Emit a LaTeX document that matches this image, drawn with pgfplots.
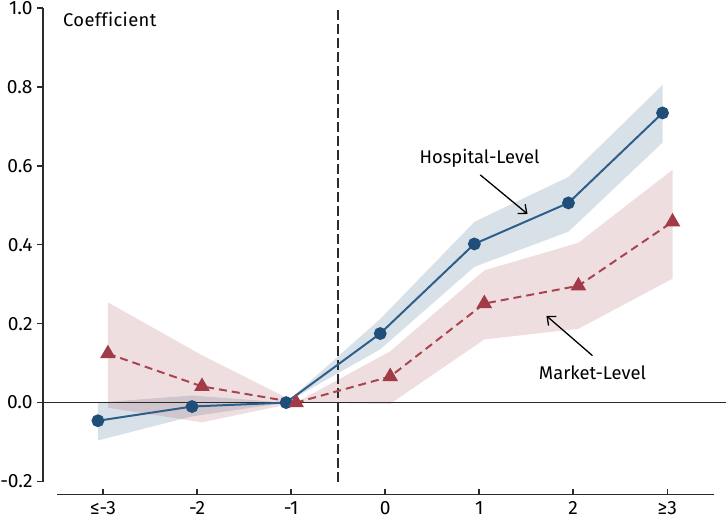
\documentclass[border=0pt]{standalone}
\usepackage{fontspec}
\setmainfont{Fira Sans}
\usepackage{pgfplots}
\pgfplotsset{compat=1.18}
\usetikzlibrary{calc,arrows.meta}

\definecolor{hosp}{HTML}{1F4E79}
\definecolor{hospline}{HTML}{2E5F8A}
\definecolor{mkt}{HTML}{A23B48}
\definecolor{mktline}{HTML}{A8454F}
\definecolor{axisgray}{HTML}{2B2B2B}

% event-time coefficients; x = category index (0 = <=-3, ..., 6 = >=3)
\pgfplotstableread{
x      y       lo      hi
-0.053 -0.046 -0.096  0.000
 0.947 -0.010 -0.035  0.018
 1.947  0.000  0.000  0.000
 2.947  0.175  0.135  0.212
 3.947  0.402  0.344  0.458
 4.947  0.506  0.433  0.572
 5.947  0.734  0.659  0.805
}\hospital
\pgfplotstableread{
x      y       lo      hi
 0.053  0.124 -0.013  0.254
 1.053  0.041 -0.050  0.120
 2.053  0.000  0.000  0.000
 3.053  0.066 -0.003  0.130
 4.053  0.251  0.160  0.335
 5.053  0.296  0.187  0.405
 6.053  0.458  0.314  0.590
}\market

\begin{document}
\begin{tikzpicture}[font=\fontsize{9.2}{11}\selectfont]
% plotting area
\begin{axis}[
  name=main,
  scale only axis,
  width=342pt, height=237pt,
  xmin=-0.637, xmax=6.624,
  ymin=-0.2, ymax=1.0,
  hide axis,
  clip=false,
]
% confidence bands
\addplot[draw=none, fill=hosp, fill opacity=0.17] coordinates {
  (-0.053,0.000) (0.947,0.018) (1.947,0.000) (2.947,0.212) (3.947,0.458) (4.947,0.572) (5.947,0.805)
  (5.947,0.659) (4.947,0.433) (3.947,0.344) (2.947,0.135) (1.947,0.000) (0.947,-0.035) (-0.053,-0.096)
} -- cycle;
\addplot[draw=none, fill=mkt, fill opacity=0.17] coordinates {
  (0.053,0.254) (1.053,0.120) (2.053,0.000) (3.053,0.130) (4.053,0.335) (5.053,0.405) (6.053,0.590)
  (6.053,0.314) (5.053,0.187) (4.053,0.160) (3.053,-0.003) (2.053,0.000) (1.053,-0.050) (0.053,-0.013)
} -- cycle;

% left axis line with outward ticks
\draw[axisgray, line width=0.75pt] (rel axis cs:0,0) -- (rel axis cs:0,1);
\pgfplotsinvokeforeach{-0.2,0,0.2,0.4,0.6,0.8,1.0}{
  \draw[axisgray, line width=0.75pt] (axis cs:-0.637,#1) -- ([xshift=-3pt]axis cs:-0.637,#1);
}

% reference lines: zero and the event date between -1 and 0
\draw[axisgray, line width=0.75pt] (axis cs:-0.637,0) -- (axis cs:6.624,0);
\draw[axisgray, line width=0.95pt, dash pattern=on 5pt off 2pt] (axis cs:2.5,-0.2) -- (axis cs:2.5,1.0);

% point estimates
\addplot[hospline, line width=1pt, mark=*, mark size=2.7pt,
  mark options={solid, fill=hosp, draw=hosp}] table[x=x, y=y] {\hospital};
\addplot[mktline, line width=1pt, dash pattern=on 4pt off 2.5pt, mark=triangle*, mark size=3.5pt,
  mark options={solid, fill=mkt, draw=mkt}] table[x=x, y=y] {\market};

% labels
\node[anchor=west, inner sep=0pt] at (rel axis cs:0.029,0.975)
  {\addfontfeatures{Ligatures=CommonOff,LetterSpace=2}Coefficient};
\node at (axis cs:4.002,0.618) {Hospital-Level};
\draw[-{Straight Barb[length=3.5pt,width=6pt]}, line width=0.65pt] (axis cs:4.010,0.577) -- (axis cs:4.512,0.478);
\node at (axis cs:5.202,0.076) {Market-Level};
\draw[-{Straight Barb[length=3.5pt,width=6pt]}, line width=0.65pt] (axis cs:5.202,0.119) -- (axis cs:4.713,0.220);
\end{axis}

% coefficient tick labels on the left
\begin{axis}[
  at={(main.south west)},
  anchor=south west,
  scale only axis,
  width=2pt, height=237pt,
  xmin=0, xmax=1,
  ymin=-0.2, ymax=1.0,
  axis y line*=left,
  axis x line=none,
  axis line style={-, axisgray, line width=0.75pt},
  ytick={-0.2,0,0.2,0.4,0.6,0.8,1.0},
  yticklabels={-0.2,0.0,0.2,0.4,0.6,0.8,1.0},
  tick align=outside,
  major tick length=3pt,
  tick style={axisgray, line width=0.75pt},
  yticklabel style={font=\fontsize{9.6}{11}\selectfont, inner sep=0pt, xshift=-2pt},
]
\addplot[draw=none] coordinates {(0,0)};
\end{axis}

% separate time axis below the plot
\begin{axis}[
  at={($(main.south west)+(7pt,-6.5pt)$)},
  anchor=south west,
  scale only axis,
  width=329pt, height=2pt,
  xmin=-0.49, xmax=6.5,
  ymin=0, ymax=1,
  axis x line*=bottom,
  axis y line=none,
  axis line style={-, axisgray, line width=0.75pt},
  xtick={0,1,2,3,4,5,6},
  xticklabels={≤-3,-2,-1,0,1,2,≥3},
  tick align=inside,
  major tick length=3pt,
  tick style={axisgray, line width=0.75pt},
  xticklabel style={font=\fontsize{9.6}{11}\selectfont, inner sep=0pt, yshift=-3.5pt},
]
\addplot[draw=none] coordinates {(0,0)};
\end{axis}

% page margins around the plotting area
\path ($(main.south west)+(-21.5pt,-18.5pt)$) ($(main.north west)+(0,4pt)$);
\end{tikzpicture}
\end{document}
